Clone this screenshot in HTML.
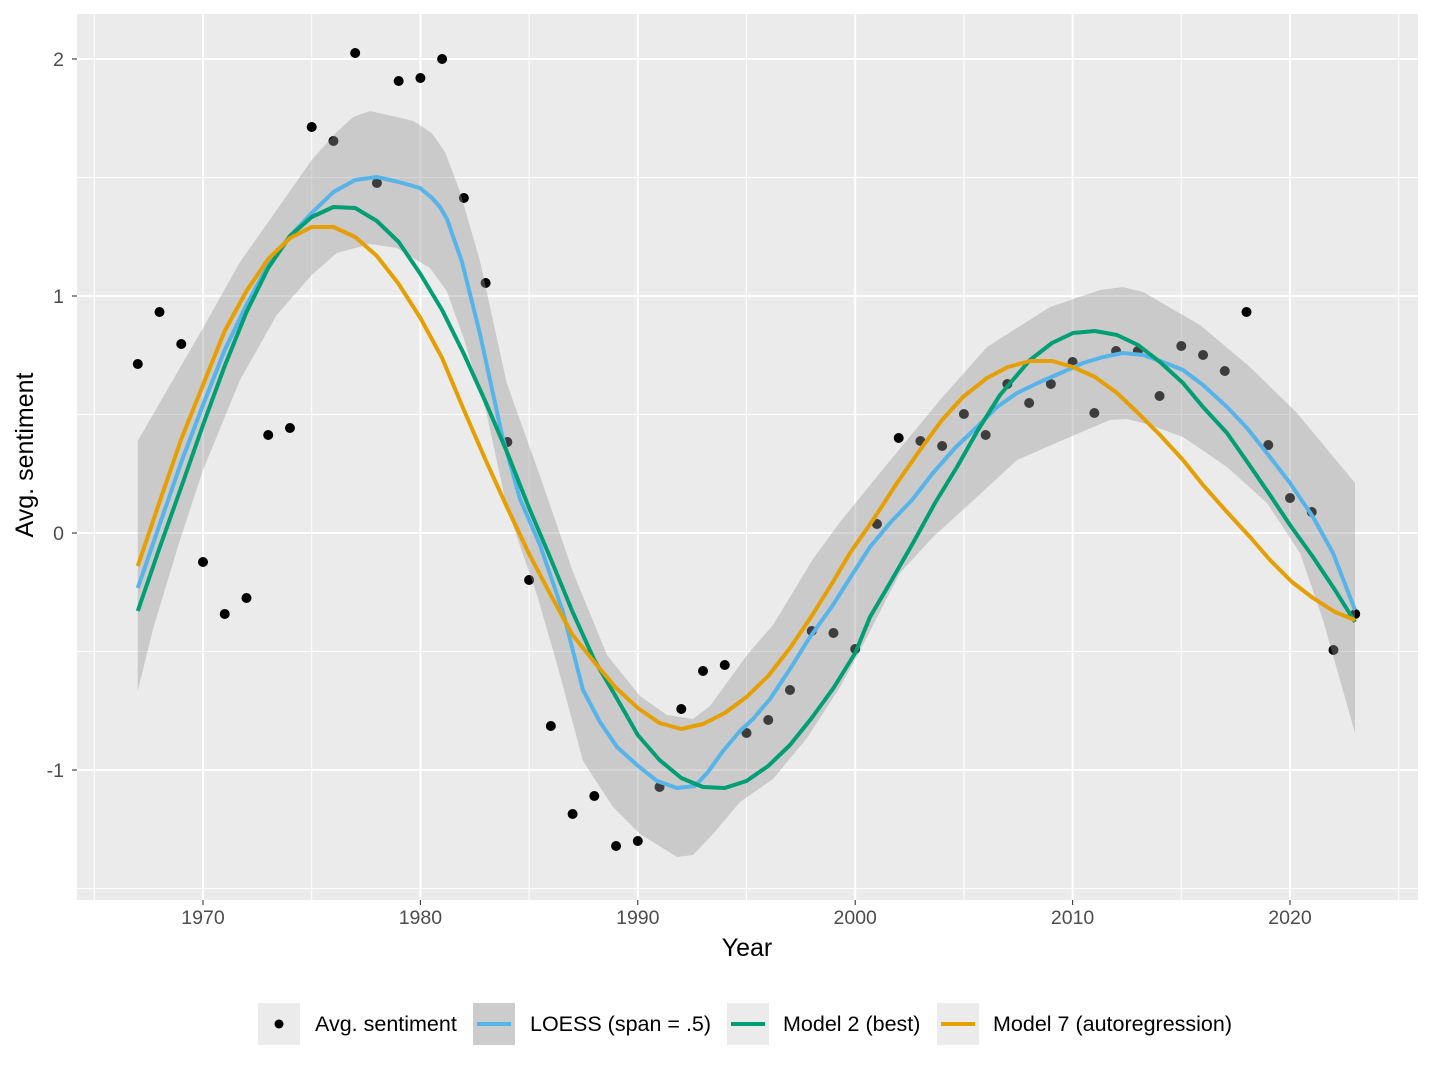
<!DOCTYPE html>
<html><head><meta charset="utf-8"><style>
body{margin:0;background:#fff;}
svg text{font-family:"Liberation Sans",Arial,sans-serif;}
</style></head><body>
<svg id="s" width="1431" height="1073" xmlns="http://www.w3.org/2000/svg">
<rect x="0" y="0" width="1431" height="1073" fill="#fff"/>
<rect x="77" y="14" width="1341" height="886" fill="#ebebeb"/>
<g id="grid"></g>
<g id="plot"></g>
<g font-size="19.5" fill="#4d4d4d" text-anchor="middle">
<text x="203" y="924">1970</text><text x="420.4" y="924">1980</text><text x="637.8" y="924">1990</text>
<text x="855.2" y="924">2000</text><text x="1072.6" y="924">2010</text><text x="1290" y="924">2020</text>
</g>
<g font-size="19.5" fill="#4d4d4d" text-anchor="end">
<text x="64" y="66">2</text><text x="64" y="303">1</text><text x="64" y="540">0</text><text x="64" y="777">-1</text>
</g>
<g stroke="#333" stroke-width="1.1">
<line x1="203" y1="900" x2="203" y2="905"/><line x1="420.4" y1="900" x2="420.4" y2="905"/><line x1="637.8" y1="900" x2="637.8" y2="905"/>
<line x1="855.2" y1="900" x2="855.2" y2="905"/><line x1="1072.6" y1="900" x2="1072.6" y2="905"/><line x1="1290" y1="900" x2="1290" y2="905"/>
<line x1="72" y1="59" x2="77" y2="59"/><line x1="72" y1="296" x2="77" y2="296"/><line x1="72" y1="533" x2="77" y2="533"/><line x1="72" y1="770" x2="77" y2="770"/>
</g>
<text x="747" y="956" font-size="25" text-anchor="middle" fill="#000">Year</text>
<text transform="translate(33,455) rotate(-90)" font-size="25" text-anchor="middle" fill="#000">Avg. sentiment</text>
<g font-size="21.5">
<rect x="258" y="1003" width="42" height="42" fill="#ebebeb"/><circle cx="279" cy="1024" r="4.5" fill="#000"/>
<text x="315" y="1031">Avg. sentiment</text>
<rect x="473" y="1003" width="42" height="42" fill="#ccc"/><line x1="477" y1="1024" x2="511" y2="1024" stroke="#56b4e9" stroke-width="4"/>
<text x="530" y="1031">LOESS (span = .5)</text>
<rect x="727" y="1003" width="42" height="42" fill="#ebebeb"/><line x1="731" y1="1024" x2="765" y2="1024" stroke="#009e73" stroke-width="4"/>
<text x="783" y="1031">Model 2 (best)</text>
<rect x="937" y="1003" width="42" height="42" fill="#ebebeb"/><line x1="941" y1="1024" x2="975" y2="1024" stroke="#e69f00" stroke-width="4"/>
<text x="993" y="1031">Model 7 (autoregression)</text>
</g>
</svg>
<script>
const NS="http://www.w3.org/2000/svg";
const X=y=>203+(y-1970)*21.74;
function el(p,t,a){const e=document.createElementNS(NS,t);for(const k in a)e.setAttribute(k,a[k]);p.appendChild(e);return e;}
const g=document.getElementById('grid'),P=document.getElementById('plot');
for(let yr=1965;yr<=2025;yr+=5){el(g,'line',{x1:X(yr),x2:X(yr),y1:14,y2:900,stroke:'#fff','stroke-width':yr%10==0?2:1});}
[[59,2],[177.5,1],[296,2],[414.5,1],[533,2],[651.5,1],[770,2],[888.5,1]].forEach(a=>el(g,'line',{x1:77,x2:1418,y1:a[0],y2:a[0],stroke:'#fff','stroke-width':a[1]}));
const yrs=a=>a.map(v=>[X(v[0]),v[1]]);
const ps=a=>a.map(p=>p[0].toFixed(1)+','+p[1]).join(' ');
const dots=[[1967,364],[1968,312],[1969,344],[1970,562],[1971,614],[1972,598],[1973,435],[1974,428],[1975,127],[1976,141],[1977,53],[1978,183],[1979,81],[1980,78],[1981,59],[1982,198],[1983,283],[1984,442],[1985,580],[1986,726],[1987,814],[1988,796],[1989,846],[1990,841],[1991,787],[1992,709],[1993,671],[1994,665],[1995,733],[1996,720],[1997,690],[1998,631],[1999,633],[2000,649],[2001,524],[2002,438],[2003,441],[2004,446],[2005,414],[2006,435],[2007,384],[2008,403],[2009,384],[2010,362],[2011,413],[2012,351],[2013,351],[2014,396],[2015,346],[2016,355],[2017,371],[2018,312],[2019,445],[2020,498],[2021,512],[2022,650],[2023,614]];
dots.forEach(d=>el(P,'circle',{cx:X(d[0]),cy:d[1],r:5,fill:'#000'}));
const up=[[137.7,441],[170,385],[203,328],[240,262],[276.7,210],[311.7,160],[336.7,132],[353.3,117],[370,111],[396.7,117],[413.3,121],[431.7,133],[445,152],[460,192],[480,261],[506.7,383],[540,476],[573,572],[607,655],[640,696],[667,715],[693,719],[710,706],[747,655],[773,625],[813,559],[840,522],[893,457],[940,400],[987,347],[1050,307],[1100,290],[1123,287],[1143,292],[1200,325],[1250,367],[1297,413],[1355,483]];
const lo=[[137.7,691],[153.3,628],[180,540],[203,470],[240,380],[276.7,315],[311.7,275],[336.7,253],[370,244],[396.7,248],[430,268],[446.7,291],[463.3,337],[486.7,414],[507,508],[537,595],[557,664],[583,761],[613,807],[640,834],[677,857],[693,855],[713,834],[740,802],[773,779],[807,738],[840,687],[855,660],[900,573],[933,537],[977,497],[1017,460],[1063,440],[1110,420],[1127,419],[1150,425],[1183,437],[1227,467],[1267,503],[1300,553],[1323,620],[1355,733]];
el(P,'polygon',{points:ps(up.concat(lo.slice().reverse())),fill:'#999','fill-opacity':0.4});
const blue=yrs([[1967,588],[1968,525],[1969,462],[1970,405],[1971,350],[1972,305],[1973,265],[1974,236],[1975,213],[1976,192],[1977,180],[1978,177],[1979,182]]).concat([[420,188],[432,198],[440,207],[447,219],[462,262],[480,334],[502,435],[520,499],[540,545],[563,612],[583,690],[600,722],[617,747],[637,765],[657,781],[677,788],[695,786],[708,772],[723,751],[740,731],[753,719],[770,699],[790,669],[810,637],[833,605],[850,578],[870,547],[890,523],[912,500],[933,473],[955,448],[977,427],[997,407],[1017,393],[1040,382],[1063,372],[1083,363],[1103,357],[1123,353],[1143,355],[1163,362],[1183,370],[1203,385],[1227,407],[1247,428],[1270,457],[1290,483],[1313,517],[1333,553],[1355,610]]);
const green=yrs([[1967,611],[1968,548],[1969,487],[1970,425],[1971,366],[1972,312],[1973,268],[1974,236],[1975,217],[1976,207],[1977,208],[1978,221],[1979,242],[1980,274],[1981,310],[1982,354],[1983,402],[1984,453],[1985,508],[1986,559],[1987,612],[1988,660],[1989,697],[1990,735],[1991,760],[1992,778],[1993,787],[1994,788],[1995,781],[1996,766],[1997,745],[1998,718],[1999,688],[2000,653]]).concat([[870,617],[890,583],[913,543],[935,503],[957,467],[978,430],[1000,395],[1030,360],[1052,343],[1073,333],[1095,331],[1117,335],[1138,345],[1160,362],[1183,383],[1203,407],[1227,433],[1248,463],[1270,495],[1290,525],[1313,557],[1335,590],[1355,622]]);
const orange=yrs([[1967,566],[1968,502],[1969,439],[1970,385],[1971,331],[1972,291],[1973,259],[1974,238],[1975,227],[1976,227],[1977,237],[1978,256],[1979,284],[1980,318],[1981,358],[1982,410],[1983,460],[1984,508],[1985,554],[1986,595],[1987,635],[1988,662],[1989,688],[1990,708],[1991,723],[1992,729],[1993,724],[1994,713],[1995,697],[1996,676],[1997,648],[1998,616],[1999,581]]).concat([[850,553],[873,520],[897,483],[920,450],[942,420],[963,397],[987,378],[1008,367],[1030,361],[1052,361],[1073,367],[1095,377],[1117,393],[1138,413],[1160,435],[1183,460],[1203,485],[1227,512],[1250,537],[1270,560],[1292,582],[1313,598],[1335,612],[1355,620]]);
[[blue,'#56b4e9'],[green,'#009e73'],[orange,'#e69f00']].forEach(s=>el(P,'polyline',{points:ps(s[0]),fill:'none',stroke:s[1],'stroke-width':4,'stroke-linejoin':'round'}));
</script>
</body></html>
